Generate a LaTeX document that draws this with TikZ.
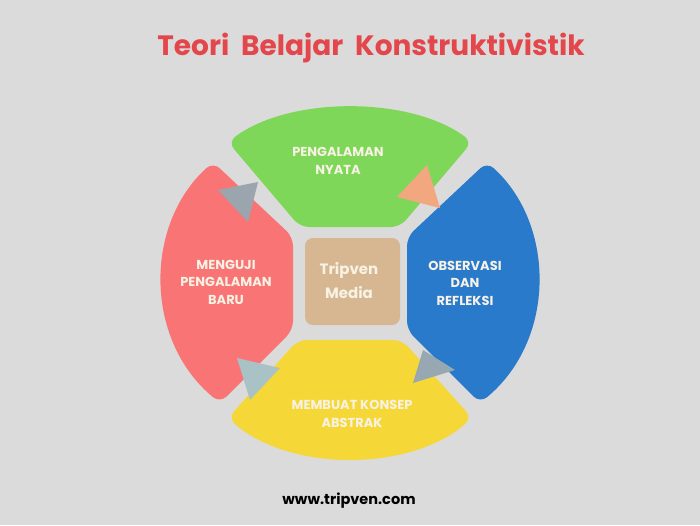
\documentclass[tikz,border=0pt]{standalone}
\usepackage{fontspec}
\setmainfont{Poppins}
\definecolor{bg}{HTML}{DBDBDB}
\definecolor{cgreen}{HTML}{7FD75A}
\definecolor{cred}{HTML}{F97575}
\definecolor{cblue}{HTML}{2A7ACB}
\definecolor{cyellow}{HTML}{F5D838}
\definecolor{ctan}{HTML}{D6B792}
\definecolor{ctitle}{HTML}{E3474B}
\definecolor{ctxt}{HTML}{F7F2E4}
\definecolor{tria}{HTML}{9AA5AD}
\definecolor{trib}{HTML}{F2A77F}
\definecolor{tric}{HTML}{97A8B3}
\definecolor{trid}{HTML}{A8C2C6}
\tikzset{
  seg/.style={rounded corners=9pt},
  lbl/.style={text=ctxt, font=\fontsize{13}{17.5}\selectfont\bfseries, align=center, inner sep=0pt},
}
\begin{document}
\begin{tikzpicture}[x=1pt,y=-1pt]
\fill[bg] (0,0) rectangle (700,525);
\useasboundingbox (0,0) rectangle (700,525);
% green (top)
\fill[cgreen, seg] (300,227) -- (228,142) .. controls (290,96) and (410,96) .. (472,142) -- (400,227) -- cycle;
% red (left)
\fill[cred, seg] (293,237) -- (293,330) -- (220,403) .. controls (144,340) and (144,225) .. (213,162) -- cycle;
% blue (right)
\fill[cblue, seg] (407,237) -- (407,330) -- (480,403) .. controls (556,340) and (556,225) .. (487,162) -- cycle;
% yellow (bottom)
\fill[cyellow, seg] (298,340) -- (402,340) -- (472,418) .. controls (410,472) and (290,472) .. (228,418) -- cycle;
% centre box
\node[fill=ctan, rounded corners=8pt, minimum width=95pt, minimum height=87pt, inner sep=0pt] (mid) at (352.5,281.5) {};
\node[text=ctxt, font=\fontsize{15}{24}\selectfont\bfseries, align=center] (midt) at (349,281) {Tripven\\ Media};
% triangles
\fill[tria] (218,190) -- (258,182) -- (248,222) -- cycle;
\fill[trib] (427,165) -- (397,197) -- (440,208) -- cycle;
\fill[tric] (423,350) -- (455,370) -- (413,383) -- cycle;
\fill[trid] (237,358) -- (280,368) -- (250,400) -- cycle;
% labels
\node[lbl] (g) at (338,161) {PENGALAMAN\\NYATA};
\node[lbl] (r) at (226,282) {MENGUJI\\PENGALAMAN\\BARU};
\node[lbl] (b) at (465,283) {OBSERVASI\\DAN\\REFLEKSI};
\node[lbl] (y) at (352,414) {MEMBUAT KONSEP\\ABSTRAK};
% title and footer
\node[text=ctitle, font=\fontsize{28}{32}\selectfont\bfseries, inner sep=0pt] (title) at (371,48) {Teori\ \ Belajar\ \ Konstruktivistik};
\node[text=black, font=\fontsize{14.5}{17}\selectfont\bfseries, inner sep=0pt] (foot) at (349,501) {www.tripven.com};
\end{tikzpicture}
\end{document}
